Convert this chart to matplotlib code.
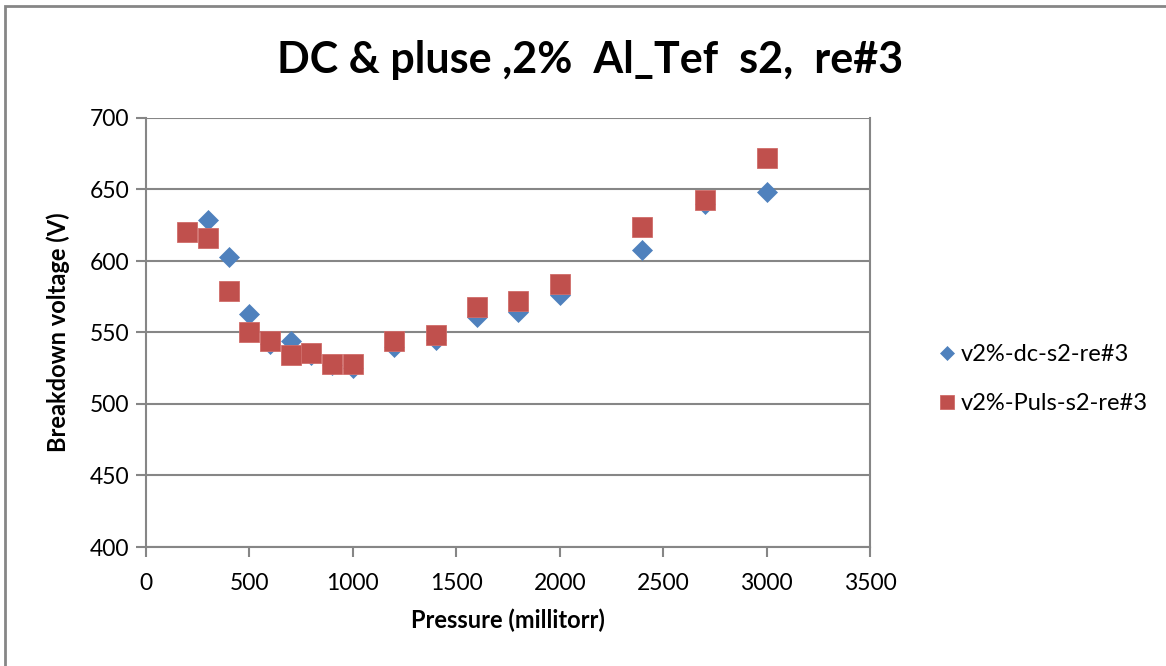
"""Breakdown voltage vs pressure, DC and pulsed, 2% Al_Tef s2 re#3."""

import matplotlib
matplotlib.use("Agg")
import matplotlib.pyplot as plt
from matplotlib.patches import Rectangle

# Data
dc_pressure = [300, 400, 500, 600, 700, 800, 900, 1000, 1200, 1400, 1600, 1800, 2000, 2400, 2700, 3000]
dc_voltage = [629, 603, 563, 542, 544, 534, 527, 525, 540, 545, 561, 564, 576, 608, 640, 648]

puls_pressure = [200, 300, 400, 500, 600, 700, 800, 900, 1000, 1200, 1400, 1600, 1800, 2000, 2400, 2700, 3000]
puls_voltage = [620, 616, 579, 550, 544, 534, 536, 528, 528, 544, 548, 568, 572, 584, 624, 643, 672]

x_ticks = [0, 500, 1000, 1500, 2000, 2500, 3000, 3500]
y_ticks = [400, 450, 500, 550, 600, 650, 700]

title = "DC & pluse ,2%  Al_Tef  s2,  re#3"
dc_label = "v2%-dc-s2-re#3"
puls_label = "v2%-Puls-s2-re#3"

GRID = "#868686"
BLUE = "#4F81BD"
RED = "#C0504D"

plt.rcParams["font.family"] = ["Lato", "DejaVu Sans"]

fig = plt.figure(figsize=(11.66, 6.66), dpi=100)
ax = fig.add_axes([146 / 1166, 1 - 547 / 666, 724 / 1166, 429 / 666])

# outer chart border (only top and left edges are visible in the reference)
fig.patches.append(Rectangle((5 / 1166, -0.1), 1.2, 1 - 6 / 666 + 0.1,
                             transform=fig.transFigure, fill=False,
                             edgecolor=GRID, linewidth=2))

ax.plot(dc_pressure, dc_voltage, linestyle="none", marker="D", markersize=10,
        color=BLUE, markeredgecolor=BLUE, markeredgewidth=0.5, label=dc_label, zorder=3)
ax.plot(puls_pressure, puls_voltage, linestyle="none", marker="s", markersize=14,
        color=RED, markeredgecolor="#D06C69", markeredgewidth=0.6, label=puls_label, zorder=4)

ax.set_xlim(0, 3500)
ax.set_ylim(400, 700)
ax.set_xticks(x_ticks)
ax.set_yticks(y_ticks)
ax.grid(True, axis="y", color=GRID, linewidth=1.5)
ax.set_axisbelow(True)

for side in ["left", "bottom", "right"]:
    ax.spines[side].set_color(GRID)
    ax.spines[side].set_linewidth(1.5)
ax.spines["top"].set_visible(False)

ax.tick_params(axis="both", direction="out", length=7, width=1.5, color=GRID,
               labelsize=16.5, pad=5)
ax.tick_params(axis="x", pad=12)

ax.set_xlabel("Pressure (millitorr)", fontsize=17, fontweight="bold", labelpad=10)
ax.set_ylabel("Breakdown voltage (V)", fontsize=17, fontweight="bold", labelpad=14)
fig.text(590 / 1166, 1 - 60 / 666, title, fontsize=31, fontweight="bold",
         ha="center", va="center")

fig.legend(loc="center left", bbox_to_anchor=(932 / 1166, 1 - 379 / 666),
           frameon=False, fontsize=17, handlelength=0.5, handletextpad=0.3,
           labelspacing=1.2, borderaxespad=0, markerscale=0.75)

fig.savefig("out.png", dpi=100)
plt.close(fig)
